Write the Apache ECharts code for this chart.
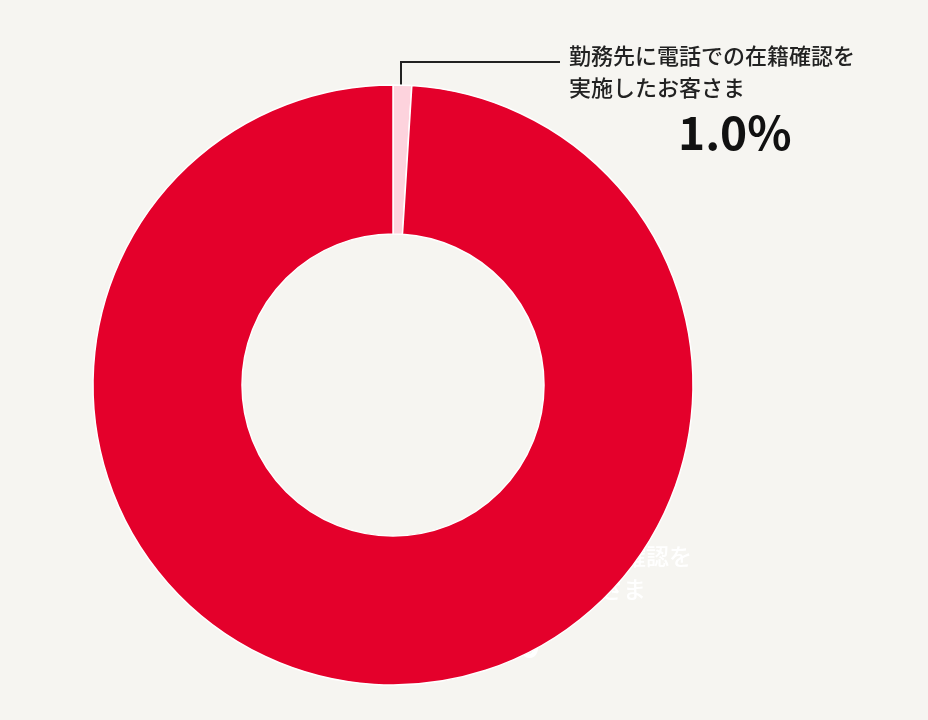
<!DOCTYPE html>
<html><head><meta charset="utf-8">
<script src="https://cdn.jsdelivr.net/npm/echarts@6/dist/echarts.min.js"></script>
<style>html,body{margin:0;background:#f6f5f1}#c{width:928px;height:720px}</style>
</head><body><div id="c"></div>
<script>
const categories = ['勤務先に電話での在籍確認を実施したお客さま', '勤務先に電話での在籍確認を実施しなかったお客さま'];
const values = [1.0, 99.0];
const colors = ['#fdd3dd', '#e4002b'];
const chart = echarts.init(document.getElementById('c'));
const F = '"Noto Sans CJK JP", sans-serif';
chart.setOption({
  backgroundColor: '#f6f5f1',
  series: [{
    type: 'pie', center: [393, 385], radius: [151, 300], startAngle: 90,
    silent: true, label: {show: false}, labelLine: {show: false},
    itemStyle: {borderColor: '#fff', borderWidth: 1.5},
    data: categories.map((c, i) => ({name: c, value: values[i], itemStyle: {color: colors[i]}}))
  }],
  graphic: [
    {type: 'polyline', shape: {points: [[401, 128], [401, 62], [560, 62]]}, style: {stroke: '#222', lineWidth: 2, fill: null}},
    {type: 'text', left: 569, top: 40, style: {text: '勤務先に電話での在籍確認を\n実施したお客さま', font: '500 22px ' + F, fill: '#222', lineHeight: 32}},
    {type: 'text', left: 678, top: 110, style: {text: values[0].toFixed(1) + '%', font: 'bold 46px ' + F, fill: '#111'}},
    {type: 'text', left: 393, top: 540, style: {text: '勤務先に電話での在籍確認を\n実施しなかったお客さま', font: '500 23px ' + F, fill: '#fff', lineHeight: 33, align: 'center'}},
    {type: 'text', left: 393, top: 615, style: {text: values[1].toFixed(1) + '%', font: 'bold 48px ' + F, fill: '#fff', align: 'center'}}
  ]
});
</script></body></html>
